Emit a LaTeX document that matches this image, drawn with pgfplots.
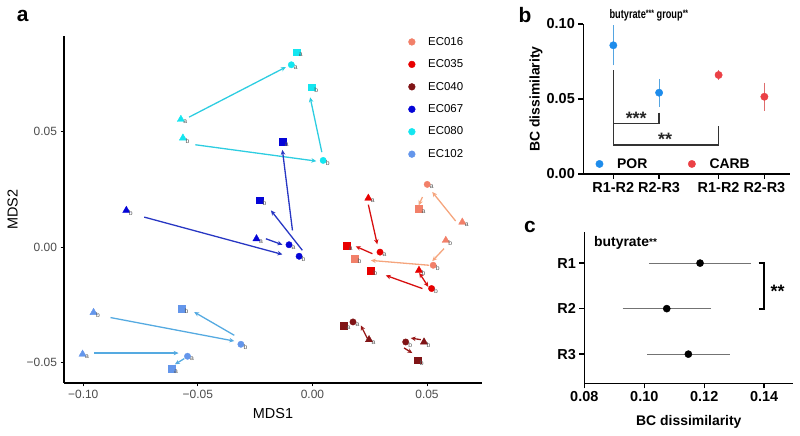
\documentclass[border=0pt]{standalone}
\usepackage{fontspec}
\setmainfont{Liberation Sans}
\usepackage{graphicx}
\usepackage{pgfplots}
\pgfplotsset{compat=1.18}
\usetikzlibrary{arrows.meta}
\definecolor{c016}{RGB}{242,128,105}
\definecolor{c016a}{RGB}{245,165,125}
\definecolor{c035}{RGB}{232,0,0}
\definecolor{c035a}{RGB}{215,15,15}
\definecolor{c040}{RGB}{128,20,22}
\definecolor{c040a}{RGB}{150,22,22}
\definecolor{c067}{RGB}{5,5,215}
\definecolor{c067a}{RGB}{40,55,195}
\definecolor{c080}{RGB}{20,230,240}
\definecolor{c080a}{RGB}{45,205,225}
\definecolor{c102}{RGB}{100,150,235}
\definecolor{c102a}{RGB}{85,170,225}
\definecolor{por}{RGB}{30,140,235}
\definecolor{porl}{RGB}{85,165,225}
\definecolor{carb}{RGB}{235,65,70}
\definecolor{carbl}{RGB}{222,110,110}
\pgfplotsset{
  lab/.style={only marks, forget plot, nodes near coords, point meta=explicit symbolic,
    every node near coord/.append style={font=\fontsize{6.8}{6.8}\selectfont, text=black!65,
      anchor=west, xshift=2.4pt, yshift=-2.8pt, inner sep=0pt}},
  tri/.style={lab, mark=triangle*, mark size=4.2pt},
  cir/.style={lab, mark=*, mark size=3.2pt},
  squ/.style={lab, mark=square*, mark size=3.4pt},
  arr/.style={forget plot, line width=1.3pt, -{Stealth[length=5pt,width=4.5pt]}},
  arr2/.style={forget plot, line width=1.3pt, {Stealth[length=5pt,width=4.5pt]}-{Stealth[length=5pt,width=4.5pt]}},
}
\begin{document}
\begin{tikzpicture}
\useasboundingbox (0,0) rectangle (800bp,436bp);
% ---------------- panel a ----------------
\begin{axis}[at={(64bp,53bp)}, anchor=south west, scale only axis,
  width=418bp, height=347bp,
  xmin=-0.1084, xmax=0.074, ymin=-0.059, ymax=0.0916,
  scaled x ticks=false, scaled y ticks=false,
  axis x line*=bottom, axis y line*=left,
  axis line style={line width=1.3pt, -},
  xtick={-0.1,-0.05,0,0.05}, xticklabels={−0.10,−0.05,0.00,0.05},
  ytick={-0.05,0,0.05}, yticklabels={−0.05,0.00,0.05},
  tick style={black, line width=1pt}, major tick length=3.5pt, tick align=outside,
  ticklabel style={font=\fontsize{12}{12}\selectfont, text=black!70},
  xlabel={MDS1}, ylabel={MDS2},
  every axis x label/.style={at={(axis description cs:0.5,-0.087)}, anchor=center, font=\fontsize{14.5}{15}\selectfont},
  every axis y label/.style={at={(axis description cs:-0.123,0.5)}, rotate=90, anchor=center, font=\fontsize{14.5}{15}\selectfont},
  clip=false,
  legend style={draw=none, fill=none, at={(axis description cs:0.8165,1.0086)}, anchor=north west,
    font=\fontsize{11.5}{12}\selectfont, row sep=9pt,
    /tikz/every odd column/.append style={column sep=11pt}},
  legend cell align=left,
]
\addlegendimage{only marks, mark=*, mark size=3.4pt, color=c016}\addlegendentry{EC016}
\addlegendimage{only marks, mark=*, mark size=3.4pt, color=c035}\addlegendentry{EC035}
\addlegendimage{only marks, mark=*, mark size=3.4pt, color=c040}\addlegendentry{EC040}
\addlegendimage{only marks, mark=*, mark size=3.4pt, color=c067}\addlegendentry{EC067}
\addlegendimage{only marks, mark=*, mark size=3.4pt, color=c080}\addlegendentry{EC080}
\addlegendimage{only marks, mark=*, mark size=3.4pt, color=c102}\addlegendentry{EC102}
% arrows
\addplot[arr, c080a] coordinates {(-0.0538,0.0564) (-0.0116,0.0781)};
\addplot[arr, c080a] coordinates {(-0.0511,0.0444) (0.0017,0.0373)};
\addplot[arr, c080a] coordinates {(0.0041,0.0412) (-0.0010,0.0650)};
\addplot[arr, c067a] coordinates {(-0.0734,0.0130) (-0.0131,-0.0032)};
\addplot[arr, c067a] coordinates {(-0.0203,0.0036) (-0.0131,0.0010)};
\addplot[arr, c067a] coordinates {(-0.0087,0.0072) (-0.0131,0.0422)};
\addplot[arr, c067a] coordinates {(-0.0044,-0.0014) (-0.0181,0.0159)};
\addplot[arr, c102a] coordinates {(-0.0952,-0.0460) (-0.0584,-0.0460)};
\addplot[arr, c102a] coordinates {(-0.0881,-0.0306) (-0.0341,-0.0408)};
\addplot[arr, c102a] coordinates {(-0.0341,-0.0383) (-0.0516,-0.0282)};
\addplot[arr, c102a] coordinates {(-0.0559,-0.0484) (-0.0600,-0.0509)};
\addplot[arr, c016a] coordinates {(0.0625,0.0113) (0.0523,0.0239)};
\addplot[arr, c016a] coordinates {(0.0480,0.0217) (0.0464,0.0181)};
\addplot[arr, c016a] coordinates {(0.0574,-0.0007) (0.0523,-0.0061)};
\addplot[arr, c016a] coordinates {(0.0509,-0.0079) (0.0255,-0.0058)};
\addplot[arr, c035a] coordinates {(0.0244,0.0184) (0.0283,0.0012)};
\addplot[arr, c035a] coordinates {(0.0262,-0.0029) (0.0189,0.0003)};
\addplot[arr2, c035a] coordinates {(0.0466,-0.0112) (0.0506,-0.0173)};
\addplot[arr, c035a] coordinates {(0.0480,-0.0180) (0.0320,-0.0123)};
\addplot[arr, c040a] coordinates {(0.0240,-0.0397) (0.0211,-0.0340)};
\addplot[arr, c040a] coordinates {(0.0473,-0.0402) (0.0429,-0.0395)};
\addplot[arr, c040a] coordinates {(0.0400,-0.0438) (0.0436,-0.0460)};
% markers
\addplot[tri, c016] coordinates {(0.0654,0.0108) [a] (0.0582,0.0029) [b]};
\addplot[cir, c016] coordinates {(0.0501,0.0272) [a] (0.0527,-0.0079) [b]};
\addplot[squ, c016] coordinates {(0.0465,0.0167) [a] (0.0186,-0.0050) [b]};
\addplot[tri, c035] coordinates {(0.0244,0.0212) [a] (0.0465,-0.0101) [b]};
\addplot[cir, c035] coordinates {(0.0295,-0.0022) [a] (0.0520,-0.0180) [b]};
\addplot[squ, c035] coordinates {(0.0148,0.0007) [a] (0.0255,-0.0101) [b]};
\addplot[tri, c040] coordinates {(0.0247,-0.0402) [a] (0.0487,-0.0412) [b]};
\addplot[cir, c040] coordinates {(0.0177,-0.0325) [a] (0.0407,-0.0412) [b]};
\addplot[squ, c040] coordinates {(0.0138,-0.0340) [a] (0.0458,-0.0491) [b]};
\addplot[tri, c067] coordinates {(-0.0244,0.0036) [a] (-0.0812,0.0159) [b]};
\addplot[cir, c067] coordinates {(-0.0102,0.0010) [a] (-0.0058,-0.0040) [b]};
\addplot[squ, c067] coordinates {(-0.0131,0.0458) [a] (-0.0229,0.0203) [b]};
\addplot[tri, c080] coordinates {(-0.0574,0.0554) [a] (-0.0565,0.0473) [b]};
\addplot[cir, c080] coordinates {(-0.0092,0.0791) [a] (0.0047,0.0376) [b]};
\addplot[squ, c080] coordinates {(-0.0070,0.0846) [a] (-0.0003,0.0694) [b]};
\addplot[tri, c102] coordinates {(-0.1003,-0.0465) [a] (-0.0955,-0.0284) [b]};
\addplot[cir, c102] coordinates {(-0.0545,-0.0474) [a] (-0.0312,-0.0422) [b]};
\addplot[squ, c102] coordinates {(-0.0615,-0.0527) [a] (-0.0569,-0.0267) [b]};
\end{axis}
% ---------------- panel b ----------------
\begin{axis}[at={(583.3bp,262bp)}, anchor=south west, scale only axis,
  width=206.7bp, height=150bp,
  xmin=0.344, xmax=4.86, ymin=0, ymax=0.10,
  scaled y ticks=false,
  axis x line*=bottom, axis y line*=left,
  axis line style={line width=1.6pt, -},
  xtick={1,2,3.3,4.3}, xticklabels={R1-R2,R2-R3,R1-R2,R2-R3},
  ytick={0,0.05,0.1}, yticklabels={0.00,0.05,0.10},
  tick style={black, line width=1.5pt}, major tick length=5pt, tick align=outside,
  ticklabel style={font=\bfseries\fontsize{14.5}{14.5}\selectfont},
  ylabel={BC dissimilarity},
  every axis y label/.style={at={(axis description cs:-0.229,0.5)}, rotate=90, anchor=center, font=\bfseries\fontsize{14}{14}\selectfont},
  clip=false,
  legend style={draw=none, fill=none, at={(axis description cs:0.045,0.067)}, anchor=west,
    font=\bfseries\fontsize{14}{14}\selectfont,
    /tikz/every odd column/.append style={column sep=12pt},
    /tikz/every even column/.append style={column sep=39pt}},
  legend columns=2,
]
\addlegendimage{only marks, mark=*, mark size=3.7pt, color=por}\addlegendentry{POR}
\addlegendimage{only marks, mark=*, mark size=3.7pt, color=carb}\addlegendentry{CARB}
\addplot[forget plot, color=black!80, line width=1.5pt] coordinates {(2,0.0409) (2,0.0338) (1,0.0338)};
\addplot[forget plot, color=black!80, line width=1.5pt] coordinates {(1,0.0693) (1,0.0193) (3.3,0.0193) (3.3,0.032)};
\addplot[forget plot, only marks, mark=*, mark size=3.7pt, color=por,
  error bars/.cd, y dir=both, y explicit,
  error bar style={color=porl, line width=1pt},
  error mark options={color=porl, line width=1pt, mark size=4pt}]
  coordinates {(1,0.0858) +- (0,0.0107) (2,0.0542) +- (0,0.0066)};
\addplot[forget plot, only marks, mark=*, mark size=3.7pt, color=carb,
  error bars/.cd, y dir=both, y explicit,
  error bar style={color=carbl, line width=1pt},
  error mark options={color=carbl, line width=1pt, mark size=4pt}]
  coordinates {(3.3,0.0660) +- (0,0.0008) (4.3,0.0515) +- (0,0.0067)};
\node[font=\bfseries\fontsize{18}{18}\selectfont, text=black!85] at (axis cs:1.5,0.0372) {***};
\node[font=\bfseries\fontsize{18}{18}\selectfont, text=black!85] at (axis cs:2.13,0.0228) {**};
\node[anchor=west, inner sep=0pt] at (rel axis cs:0.126,1.06)
  {\scalebox{0.74}[1]{\bfseries\fontsize{12.5}{12.5}\selectfont butyrate\raisebox{1.5pt}{\fontsize{9.5}{9.5}\selectfont ***}\ group\raisebox{1.5pt}{\fontsize{9.5}{9.5}\selectfont **}}};
\end{axis}
% ---------------- panel c ----------------
\begin{axis}[at={(584.3bp,52.7bp)}, anchor=south west, scale only axis,
  width=209bp, height=151.6bp,
  xmin=0.08, xmax=0.1497, ymin=0.36, ymax=3.69,
  scaled x ticks=false,
  axis x line*=bottom, axis y line*=left,
  axis line style={line width=1.6pt, -},
  xtick={0.08,0.1,0.12,0.14}, xticklabels={0.08,0.10,0.12,0.14},
  ytick={1,2,3}, yticklabels={R3,R2,R1},
  tick style={black, line width=1.5pt}, major tick length=5pt, tick align=outside,
  ticklabel style={font=\bfseries\fontsize{14.5}{14.5}\selectfont},
  xlabel={BC dissimilarity},
  every axis x label/.style={at={(axis description cs:0.5,-0.254)}, anchor=center, font=\bfseries\fontsize{14}{14}\selectfont},
  clip=false,
]
\addplot[only marks, mark=*, mark size=3.6pt, color=black,
  error bars/.cd, x dir=both, x explicit,
  error bar style={color=black!55, line width=1pt},
  error mark options={color=black!55, line width=1pt, mark size=3.8pt}]
  coordinates {(0.1186,3) +- (0.0158,0) (0.1075,2) +- (0.0135,0) (0.1147,1) +- (0.0125,0)};
\addplot[color=black, line width=1.8pt] coordinates {(0.1381,3) (0.1400,3) (0.1400,2) (0.1381,2)};
\node[font=\bfseries\fontsize{18}{18}\selectfont] at (axis cs:0.1445,2.375) {**};
\node[anchor=west, inner sep=0pt] at (rel axis cs:0.046,0.923)
  {\bfseries\fontsize{14}{14}\selectfont butyrate\raisebox{1.2pt}{\fontsize{10}{10}\selectfont **}};
\end{axis}
% panel letters
\node[font=\bfseries\fontsize{21}{21}\selectfont] at (22.7bp,420bp) {a};
\node[font=\bfseries\fontsize{21}{21}\selectfont] at (525bp,421bp) {b};
\node[font=\bfseries\fontsize{21}{21}\selectfont] at (530bp,209.3bp) {c};
\end{tikzpicture}
\end{document}
